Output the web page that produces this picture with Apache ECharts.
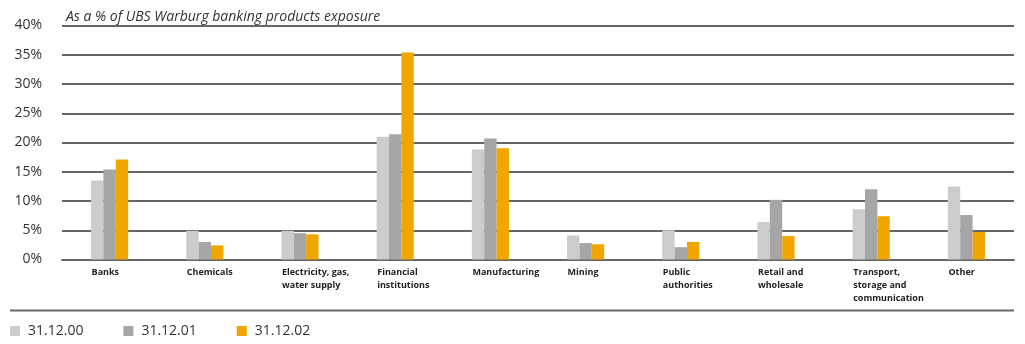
<!DOCTYPE html>
<html>
<head>
<meta charset="utf-8">
<script src="https://cdn.jsdelivr.net/npm/echarts@6/dist/echarts.min.js"></script>
<style>
  html, body { margin: 0; padding: 0; background: #fff; }
  #chart { width: 1025px; height: 344px; }
</style>
</head>
<body>
<div id="chart"></div>
<script>
// Industry breakdown of banking products exposure, in percent
const categories = [
  'Banks', 'Chemicals', 'Electricity, gas,\nwater supply', 'Financial\ninstitutions',
  'Manufacturing', 'Mining', 'Public\nauthorities', 'Retail and\nwholesale',
  'Transport,\nstorage and\ncommunication', 'Other'
];
const seriesNames = ['31.12.00', '31.12.01', '31.12.02'];
const values2000 = [13.5, 4.9, 4.9, 21.0, 18.8, 4.1, 5.0, 6.4, 8.6, 12.5];
const values2001 = [15.4, 3.0, 4.5, 21.4, 20.7, 2.8, 2.1, 10.2, 12.0, 7.6];
const values2002 = [17.1, 2.4, 4.3, 35.4, 19.0, 2.6, 3.0, 4.0, 7.4, 4.7];
const seriesColors = ['#cccccc', '#a6a6a6', '#f0a500'];
const subtitle = 'As a % of UBS Warburg banking products exposure';

const chart = echarts.init(document.getElementById('chart'), null, { renderer: 'canvas' });
const fontFamily = '"Open Sans", "Noto Sans", sans-serif';

chart.setOption({
  animation: false,
  textStyle: { fontFamily },
  title: {
    text: subtitle,
    left: 61,
    top: 5,
    textStyle: { fontSize: 14, fontStyle: 'italic', fontWeight: 'normal', color: '#333', fontFamily }
  },
  grid: { left: 62, right: 11, top: 25.5, bottom: 84.5, containLabel: false },
  legend: {
    left: 10,
    top: 324,
    padding: 0,
    itemWidth: 10,
    itemHeight: 10,
    itemGap: 40,
    icon: 'rect',
    textStyle: { fontSize: 14, color: '#333', padding: [0, 0, 0, 3], fontFamily },
    data: seriesNames
  },
  xAxis: {
    type: 'category',
    data: categories,
    axisLine: { show: true, lineStyle: { color: '#666', width: 2 } },
    axisTick: { show: false },
    axisLabel: {
      interval: 0,
      align: 'left',
      verticalAlign: 'top',
      margin: 6,
      padding: [0, 0, 0, -18],
      fontSize: 9,
      fontWeight: 'bold',
      lineHeight: 13,
      color: '#222',
      fontFamily
    }
  },
  yAxis: {
    type: 'value',
    min: 0,
    max: 40,
    interval: 5,
    axisLine: { show: false },
    axisTick: { show: false },
    axisLabel: {
      formatter: '{value}%',
      margin: 20,
      fontSize: 14,
      color: '#333',
      fontFamily
    },
    splitLine: { lineStyle: { color: '#666', width: 2 } }
  },
  graphic: [{
    type: 'line',
    shape: { x1: 10, y1: 310.5, x2: 1014, y2: 310.5 },
    style: { stroke: '#6a6a6a', lineWidth: 2 }
  }],
  series: [values2000, values2001, values2002].map((vals, i) => ({
    name: seriesNames[i],
    type: 'bar',
    data: vals,
    barGap: '0%',
    barCategoryGap: '61%',
    itemStyle: { color: seriesColors[i] }
  }))
});
</script>
</body>
</html>
